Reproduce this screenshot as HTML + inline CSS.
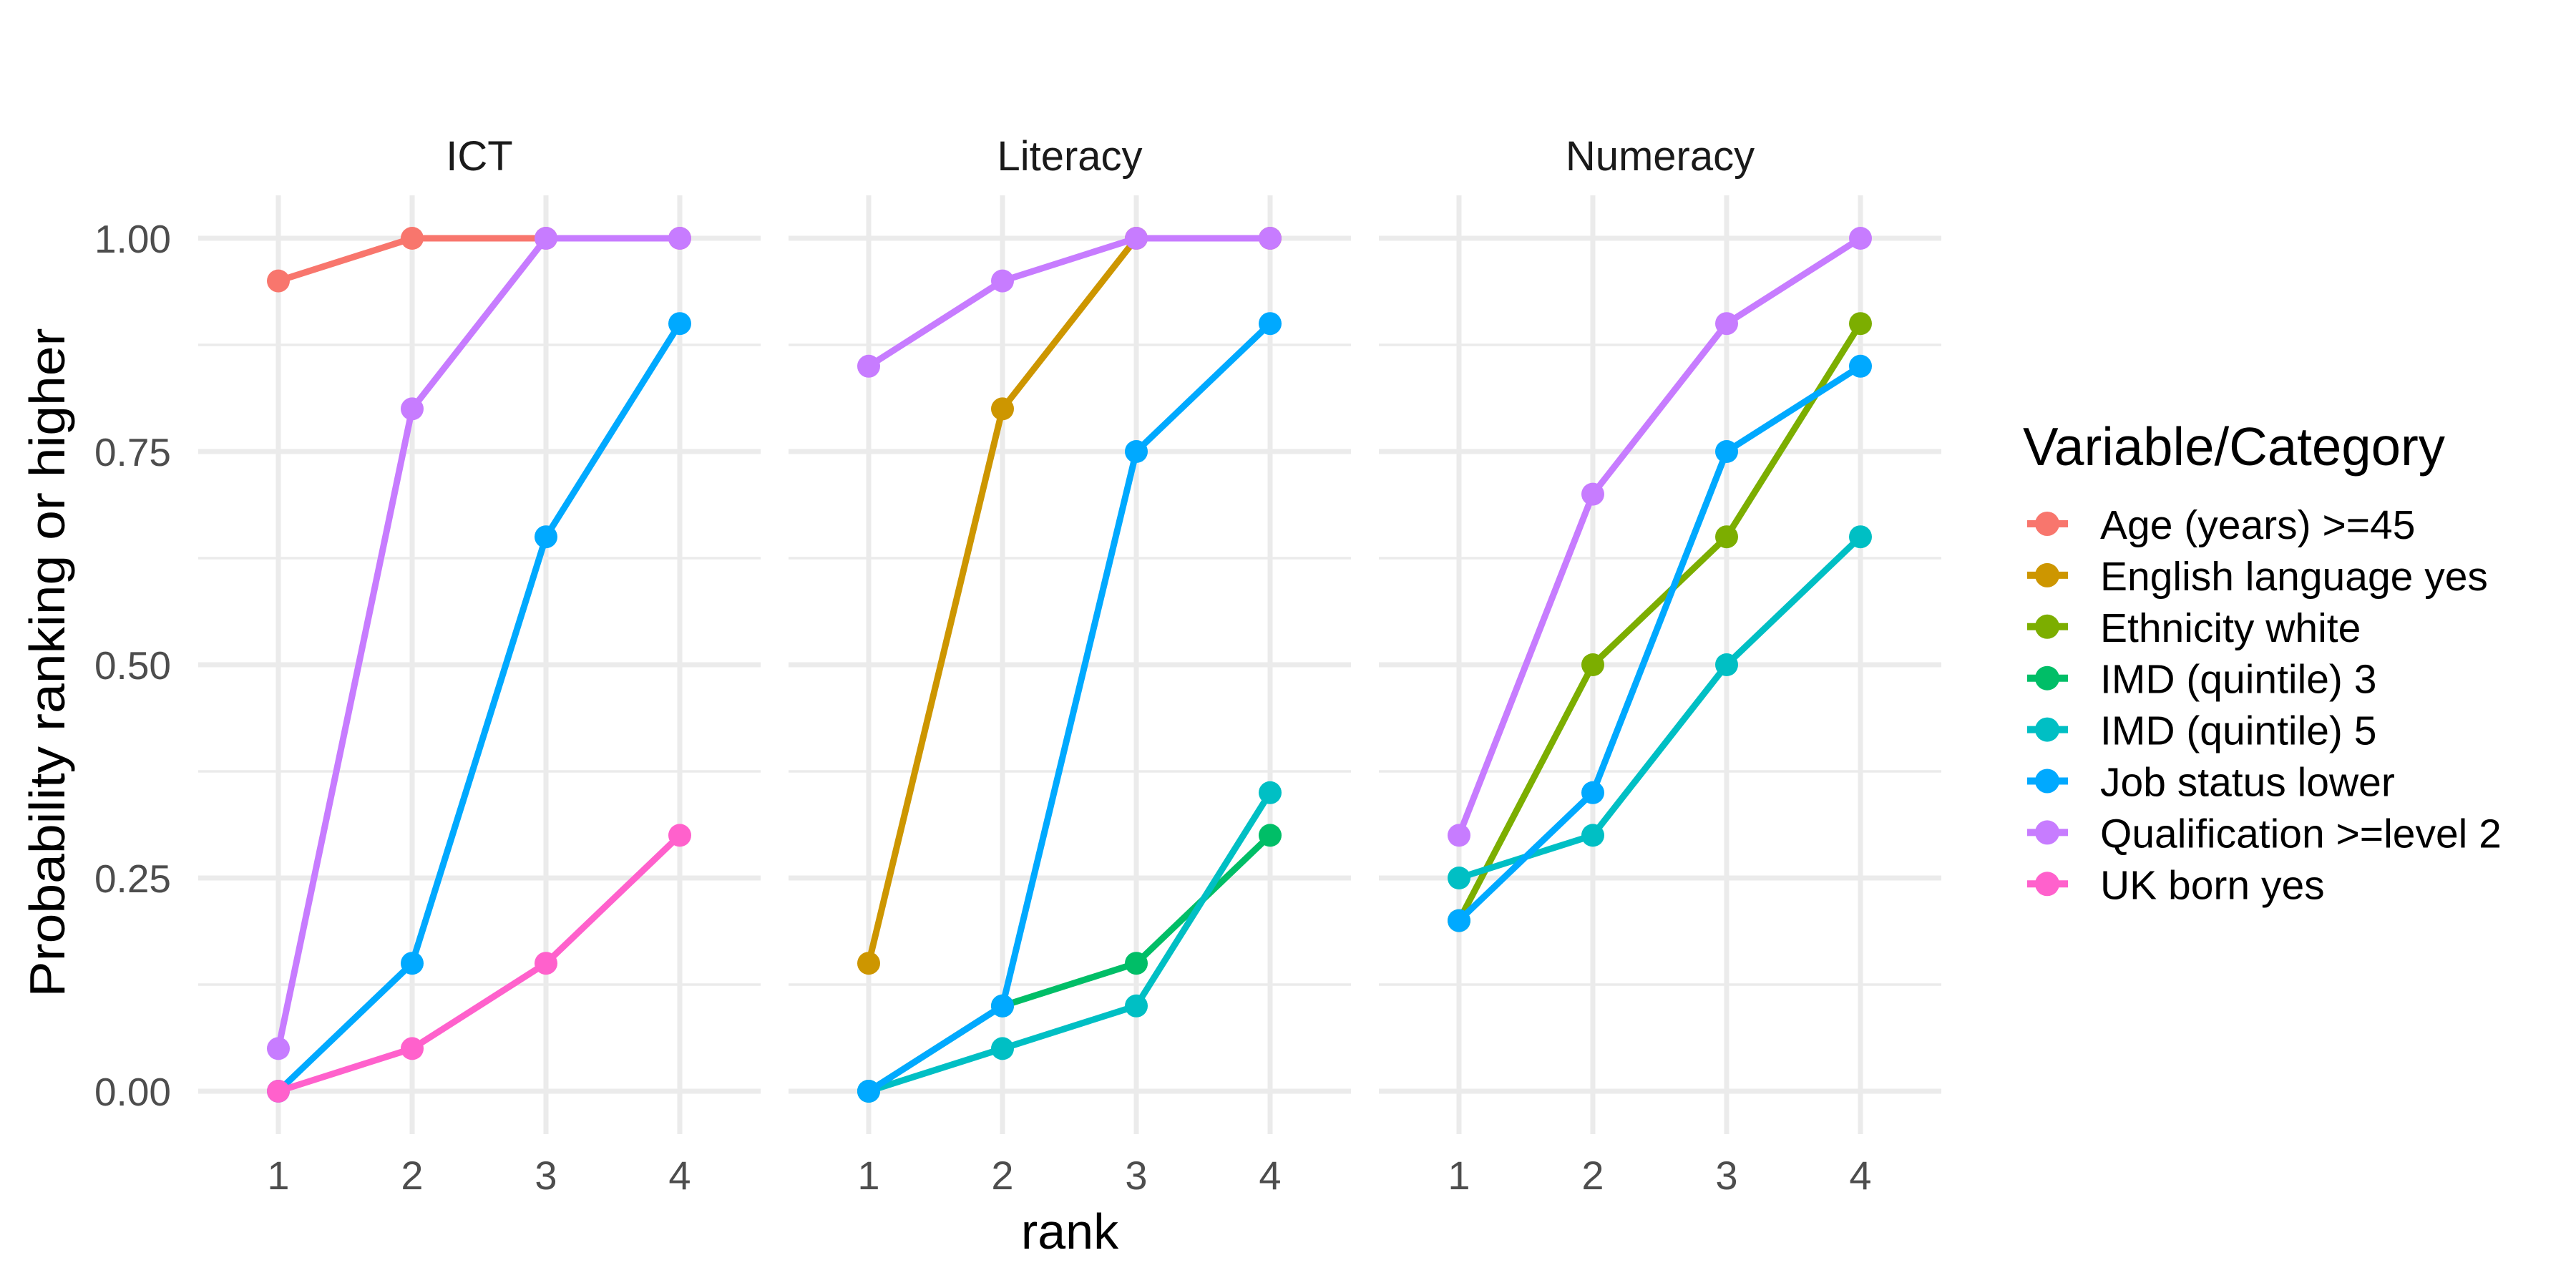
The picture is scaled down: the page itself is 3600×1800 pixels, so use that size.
<!DOCTYPE html>
<html><head><meta charset="utf-8"><style>
html,body{margin:0;padding:0;background:#fff}
svg{display:block;font-family:"Liberation Sans",Arial,sans-serif}
</style></head><body>
<svg id="chart" width="3600" height="1800" viewBox="0 0 3600 1800"></svg>
<script>
const panels = ["ICT","Literacy","Numeracy"];
const ranks = [1,2,3,4];
const yTicks = [0,0.25,0.5,0.75,1];
const yTickLabels = ["0.00","0.25","0.50","0.75","1.00"];
const categories = ["Age (years) >=45","English language yes","Ethnicity white","IMD (quintile) 3","IMD (quintile) 5","Job status lower","Qualification >=level 2","UK born yes"];
const colors = ["#F8766D","#CD9600","#7CAE00","#00BE67","#00BFC4","#00A9FF","#C77CFF","#FF61CC"];
const ictAge = [0.95,1,1,1];
const ictQual = [0.05,0.8,1,1];
const ictJob = [0,0.15,0.65,0.9];
const ictUK = [0,0.05,0.15,0.3];
const litEnglish = [0.15,0.8,1,1];
const litIMD3 = [0,0.1,0.15,0.3];
const litIMD5 = [0,0.05,0.1,0.35];
const litJob = [0,0.1,0.75,0.9];
const litQual = [0.85,0.95,1,1];
const numEthnicity = [0.2,0.5,0.65,0.9];
const numIMD5 = [0.25,0.3,0.5,0.65];
const numJob = [0.2,0.35,0.75,0.85];
const numQual = [0.3,0.7,0.9,1];

const series = [
 {panel:0,cat:0,vals:ictAge},{panel:0,cat:5,vals:ictJob},{panel:0,cat:6,vals:ictQual},{panel:0,cat:7,vals:ictUK},
 {panel:1,cat:1,vals:litEnglish},{panel:1,cat:3,vals:litIMD3},{panel:1,cat:4,vals:litIMD5},{panel:1,cat:5,vals:litJob},{panel:1,cat:6,vals:litQual},
 {panel:2,cat:2,vals:numEthnicity},{panel:2,cat:4,vals:numIMD5},{panel:2,cat:5,vals:numJob},{panel:2,cat:6,vals:numQual}
];

const NS="http://www.w3.org/2000/svg";
const svg=document.getElementById('chart');
function mk(tag,attrs,parent){const e=document.createElementNS(NS,tag);for(const k in attrs)e.setAttribute(k,attrs[k]);(parent||svg).appendChild(e);return e;}

const panelLeft=[277,1102,1927], panelW=786, plotTop=273, plotBottom=1585;
const yZero=1525, yOne=333;
function yScale(v){return yZero+(yOne-yZero)*v;}
function xScale(p,r){const step=187;return panelLeft[p]+112+(r-1)*step;}

panels.forEach((name,p)=>{
  const g=mk('g',{});
  
  
  for(let i=0;i<4;i++){const v=0.125+i*0.25;
    const l=mk('line',{x1:panelLeft[p],x2:panelLeft[p]+panelW,y1:yScale(v),y2:yScale(v),stroke:'#EBEBEB','stroke-width':3.5},g);
    
    }
  yTicks.forEach(v=>{const l=mk('line',{x1:panelLeft[p],x2:panelLeft[p]+panelW,y1:yScale(v),y2:yScale(v),stroke:'#EBEBEB','stroke-width':7},g);
    
    });
  ranks.forEach(r=>{const l=mk('line',{x1:xScale(p,r),x2:xScale(p,r),y1:plotTop,y2:plotBottom,stroke:'#EBEBEB','stroke-width':7},g);
    
    
    const t=mk('text',{x:xScale(p,r),y:1662,'text-anchor':'middle','font-size':56,fill:'#4D4D4D'},g);
    t.textContent=r;
    
    });
  const st=mk('text',{x:panelLeft[p]+panelW/2,y:238,'text-anchor':'middle','font-size':58,fill:'#1A1A1A'},g);
  st.textContent=name;
  
  
});
yTicks.forEach((v,i)=>{const t=mk('text',{x:239,y:yScale(v)+20,'text-anchor':'end','font-size':55,fill:'#4D4D4D'});
  t.textContent=yTickLabels[i];
  
  });

series.forEach(s=>{
  const c=colors[s.cat];
  const g=mk('g',{});
  
  
  const pts=s.vals.map((v,i)=>xScale(s.panel,ranks[i])+','+yScale(v)).join(' ');
  const pl=mk('polyline',{points:pts,fill:'none',stroke:c,'stroke-width':9,'stroke-linejoin':'round'},g);
  
  
  s.vals.forEach((v,i)=>{const ci=mk('circle',{cx:xScale(s.panel,ranks[i]),cy:yScale(v),r:16,fill:c},g);
    
    });
});

const yt=mk('text',{transform:'translate(90,926) rotate(-90)','text-anchor':'middle','font-size':70,fill:'#000',textLength:935,lengthAdjust:'spacingAndGlyphs'});
yt.textContent='Probability ranking or higher';


const xt=mk('text',{x:1495,y:1745,'text-anchor':'middle','font-size':70,fill:'#000'});
xt.textContent='rank';



const lg=mk('g',{});


const lt=mk('text',{x:2827,y:650,'font-size':75,fill:'#000',textLength:590,lengthAdjust:'spacingAndGlyphs'},lg);
lt.textContent='Variable/Category';


categories.forEach((cat,i)=>{
  const cy=732+i*71.9;
  const e=mk('g',{},lg);
  
  
  mk('line',{x1:2833,x2:2890,y1:cy,y2:cy,stroke:colors[i],'stroke-width':10},e);
  mk('circle',{cx:2861,cy:cy,r:17,fill:colors[i]},e);
  const t=mk('text',{x:2935,y:cy+21,'font-size':57,fill:'#000'},e);
  t.textContent=cat;
});
</script>
</body></html>
